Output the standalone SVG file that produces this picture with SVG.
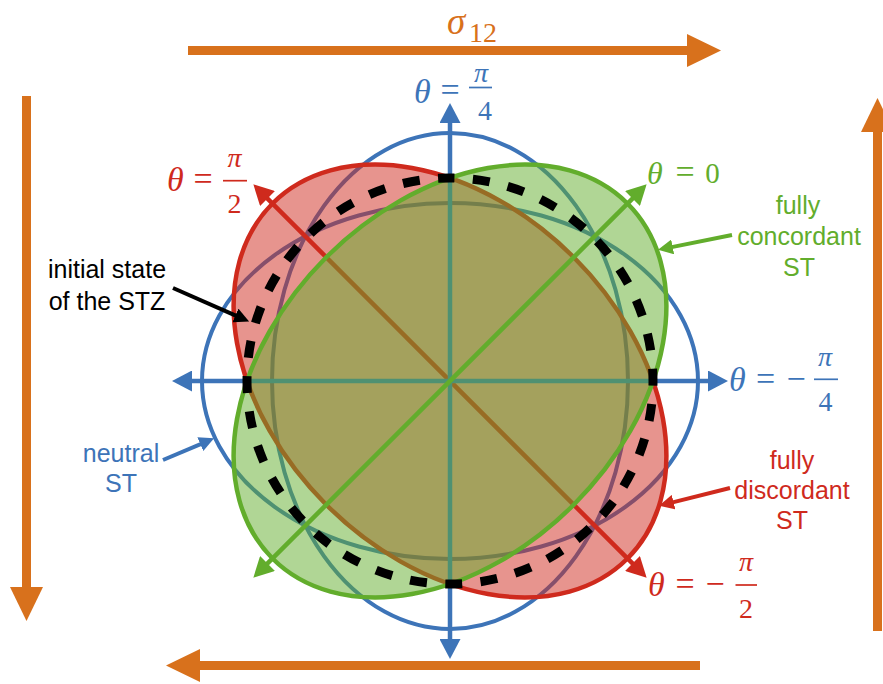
<svg xmlns="http://www.w3.org/2000/svg" width="883" height="684" viewBox="0 0 883 684">
<style>
.m{font-family:"Liberation Serif","DejaVu Serif",serif;}
.it{font-style:italic;}
.s{font-family:"Liberation Sans",Arial,sans-serif;font-size:25px;text-anchor:middle;}
.blue{fill:#3d74b8;}
.red{fill:#cf2a1d;}
.green{fill:#62ad2c;}
.orange{fill:#d8711c;}
.bar{stroke-width:1.7;}
</style>
<defs>
<marker id="ah-blue" viewBox="0 0 20 21" markerUnits="userSpaceOnUse" markerWidth="20" markerHeight="21" refX="1" refY="10.5" orient="auto-start-reverse"><path d="M0,0 L20,10.5 L0,21 Z" fill="#3d74b8"/></marker>
<marker id="ah-red" viewBox="0 0 20 21" markerUnits="userSpaceOnUse" markerWidth="20" markerHeight="21" refX="1" refY="10.5" orient="auto-start-reverse"><path d="M0,0 L20,10.5 L0,21 Z" fill="#cf2a1d"/></marker>
<marker id="ah-green" viewBox="0 0 20 21" markerUnits="userSpaceOnUse" markerWidth="20" markerHeight="21" refX="1" refY="10.5" orient="auto-start-reverse"><path d="M0,0 L20,10.5 L0,21 Z" fill="#62ad2c"/></marker>
<marker id="ah-orange" viewBox="0 0 34 33" markerUnits="userSpaceOnUse" markerWidth="34" markerHeight="33" refX="1" refY="16.5" orient="auto"><path d="M0,0 L34,16.5 L0,33 Z" fill="#d8711c"/></marker>
<marker id="ps-blue" viewBox="0 0 15 15" markerUnits="userSpaceOnUse" markerWidth="15" markerHeight="15" refX="1" refY="7.5" orient="auto"><path d="M0,0 L15,7.5 L0,15 Z" fill="#3d74b8"/></marker>
<marker id="ps-red" viewBox="0 0 15 15" markerUnits="userSpaceOnUse" markerWidth="15" markerHeight="15" refX="1" refY="7.5" orient="auto"><path d="M0,0 L15,7.5 L0,15 Z" fill="#cf2a1d"/></marker>
<marker id="ps-green" viewBox="0 0 15 15" markerUnits="userSpaceOnUse" markerWidth="15" markerHeight="15" refX="1" refY="7.5" orient="auto"><path d="M0,0 L15,7.5 L0,15 Z" fill="#62ad2c"/></marker>
<marker id="ps-black" viewBox="0 0 15 15" markerUnits="userSpaceOnUse" markerWidth="15" markerHeight="15" refX="1" refY="7.5" orient="auto"><path d="M0,0 L15,7.5 L0,15 Z" fill="#000"/></marker>
</defs>
<rect width="883" height="684" fill="#fff"/>

<g id="shear-arrows" stroke="#d8711c" stroke-width="9" fill="none">
<line x1="188" y1="50.5" x2="688" y2="50.5" marker-end="url(#ah-orange)"/>
<line x1="877.5" y1="631" x2="877.5" y2="131" marker-end="url(#ah-orange)"/>
<line x1="700" y1="665.5" x2="199" y2="665.5" marker-end="url(#ah-orange)"/>
<line x1="26.5" y1="96" x2="26.5" y2="588" marker-end="url(#ah-orange)"/>
</g>
<g id="sigma-label">
<text class="m it orange" x="447" y="34" font-size="37">σ</text>
<text class="m orange" x="469" y="42" font-size="28">12</text>
</g>

<g id="neutral-st" fill="none" stroke="#3d74b8" stroke-width="4">
<ellipse cx="450" cy="381" rx="248" ry="178"/>
<ellipse cx="450" cy="381" rx="178" ry="248"/>
</g>

<g id="discordant-st">
<ellipse cx="450" cy="381" rx="251" ry="175" transform="rotate(45 450 381)" fill="#cf2a1d" fill-opacity="0.5" stroke="#cf2a1d" stroke-width="4.5"/>
<line x1="266.8" y1="197.8" x2="633.2" y2="564.2" stroke="#cf2a1d" stroke-width="4.5" marker-start="url(#ah-red)" marker-end="url(#ah-red)"/>
</g>

<g id="neutral-axes" stroke="#3d74b8" stroke-width="4.5" fill="none">
<line x1="450" y1="122" x2="450" y2="640" marker-start="url(#ah-blue)" marker-end="url(#ah-blue)"/>
<line x1="191" y1="381" x2="709" y2="381" marker-start="url(#ah-blue)" marker-end="url(#ah-blue)"/>
</g>

<g id="concordant-st">
<ellipse cx="450" cy="381" rx="251" ry="175" transform="rotate(-45 450 381)" fill="#62ad2c" fill-opacity="0.5" stroke="#62ad2c" stroke-width="4.5"/>
<line x1="633.2" y1="197.8" x2="266.8" y2="564.2" stroke="#62ad2c" stroke-width="4.5" marker-start="url(#ah-green)" marker-end="url(#ah-green)"/>
</g>

<g id="initial-stz">
<path d="M450,178 A203,203 0 0 1 653,381 A203,203 0 0 1 450,584 A203,203 0 0 1 247,381 A203,203 0 0 1 450,178 Z" fill="none" stroke="#000" stroke-width="9" stroke-dasharray="17 18.43" stroke-dashoffset="12.5"/>
</g>

<g id="label-theta-pi4" class="m blue">
<text class="it" x="414" y="103" font-size="34">θ</text>
<text x="450" y="101" font-size="34" text-anchor="middle">=</text>
<line class="bar" x1="469" y1="87.5" x2="492" y2="87.5" stroke="#3d74b8"/>
<text class="it" x="481" y="81.5" font-size="28" text-anchor="middle">π</text>
<text x="485" y="120" font-size="28" text-anchor="middle">4</text>
</g>
<g id="label-theta-pi2" class="m red">
<text class="it" x="167" y="190.5" font-size="34">θ</text>
<text x="203" y="189.5" font-size="34" text-anchor="middle">=</text>
<line class="bar" x1="223" y1="180.7" x2="247" y2="180.7" stroke="#cf2a1d"/>
<text class="it" x="234.5" y="167" font-size="28" text-anchor="middle">π</text>
<text x="234.5" y="212.5" font-size="28" text-anchor="middle">2</text>
</g>
<g id="label-theta-0" class="m green">
<text class="it" x="647" y="184" font-size="32">θ</text>
<text x="685" y="183" font-size="34" text-anchor="middle">=</text>
<text x="712.5" y="183" font-size="29" text-anchor="middle">0</text>
</g>
<g id="label-theta-mpi4" class="m blue">
<text class="it" x="729" y="391" font-size="34">θ</text>
<text x="765.5" y="389.5" font-size="34" text-anchor="middle">=</text>
<text x="796" y="389.5" font-size="34" text-anchor="middle">−</text>
<line class="bar" x1="814" y1="379.3" x2="838" y2="379.3" stroke="#3d74b8"/>
<text class="it" x="825" y="365.5" font-size="28" text-anchor="middle">π</text>
<text x="825.5" y="410.5" font-size="28" text-anchor="middle">4</text>
</g>
<g id="label-theta-mpi2" class="m red">
<text class="it" x="648" y="596" font-size="34">θ</text>
<text x="685" y="594.5" font-size="34" text-anchor="middle">=</text>
<text x="715" y="594.5" font-size="34" text-anchor="middle">−</text>
<line class="bar" x1="735.5" y1="585" x2="757" y2="585" stroke="#cf2a1d"/>
<text class="it" x="746" y="570.5" font-size="28" text-anchor="middle">π</text>
<text x="746" y="618" font-size="28" text-anchor="middle">2</text>
</g>

<g id="label-concordant" class="s green">
<text x="798" y="214">fully</text>
<text x="799" y="245">concordant</text>
<text x="799" y="276">ST</text>
</g>
<g id="label-initial" class="s">
<text x="107" y="278">initial state</text>
<text x="107" y="310">of the STZ</text>
</g>
<g id="label-neutral" class="s blue">
<text x="121" y="462">neutral</text>
<text x="121" y="492">ST</text>
</g>
<g id="label-discordant" class="s red">
<text x="792" y="469">fully</text>
<text x="792" y="498.5">discordant</text>
<text x="792" y="529">ST</text>
</g>

<g id="connectors" stroke-width="4" fill="none">
<line x1="732" y1="235" x2="671.7" y2="247.1" stroke="#62ad2c" marker-end="url(#ps-green)"/>
<line x1="173" y1="288" x2="236.3" y2="315.9" stroke="#000" marker-end="url(#ps-black)"/>
<line x1="163" y1="460" x2="201.2" y2="443.8" stroke="#3d74b8" marker-end="url(#ps-blue)"/>
<line x1="730" y1="488" x2="672.6" y2="502.4" stroke="#cf2a1d" marker-end="url(#ps-red)"/>
</g>
</svg>
